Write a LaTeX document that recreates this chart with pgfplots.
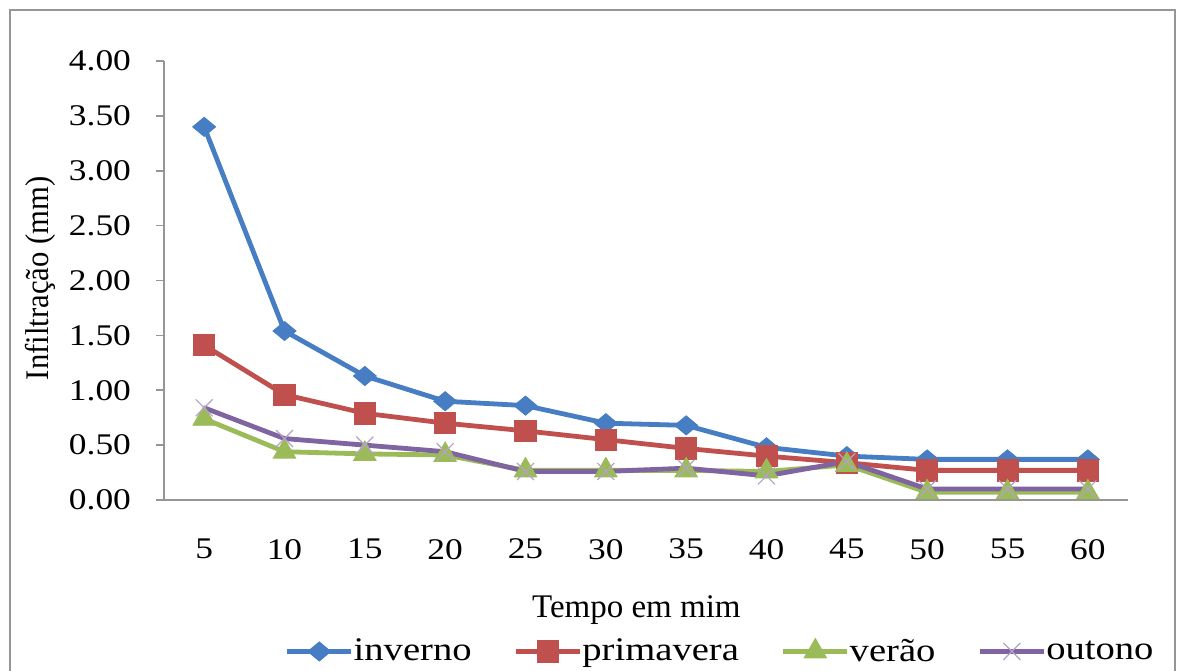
\documentclass[border=0pt]{standalone}
\usepackage{pgfplots}
\pgfplotsset{compat=1.18}
\usepackage{fontspec}
\setmainfont{Liberation Serif}
\newfontfamily\tickfont[FakeStretch=1.18]{Liberation Serif}
\newfontfamily\legfont[FakeStretch=1.17]{Liberation Serif}
\newfontfamily\ylabfont[FakeStretch=0.93]{Liberation Serif}
\definecolor{cblue}{RGB}{70,125,195}
\definecolor{cred}{RGB}{192,80,77}
\definecolor{cgreen}{RGB}{155,187,89}
\definecolor{cpurple}{RGB}{128,100,162}
\definecolor{axgray}{RGB}{150,150,150}
\begin{document}
\begin{tikzpicture}
\useasboundingbox (-82pt,-85pt) rectangle (510pt,250pt);
\draw[axgray, line width=1pt] (-77pt,-100pt) -- (-77pt,245pt) -- (505.5pt,245pt) -- (505.5pt,-100pt);
\begin{axis}[
  at={(0,0)}, anchor=south west,
  scale only axis,
  width=482pt, height=219.5pt,
  xmin=2.5, xmax=62.5, ymin=0, ymax=4,
  axis lines=left,
  axis line style={-, axgray, line width=1pt},
  xtick={5,10,...,60},
  xtick style={draw=none},
  minor xtick={2.5,7.5,...,62.5},
  minor x tick style={axgray, line width=0.8pt},
  minor tick length=4pt,
  ytick={0,0.5,...,4},
  ytick style={axgray, line width=0.8pt},
  major tick length=4pt,
  tick align=outside,
  tick pos=left,
  tick label style={font=\tickfont\fontsize{15pt}{18pt}\selectfont},
  /pgf/number format/assume math mode=true,
  yticklabel style={/pgf/number format/.cd, fixed, fixed zerofill, precision=2, /tikz/.cd, xshift=-9pt},
  xticklabel style={yshift=-12pt},
  ylabel={Infiltração (mm)},
  ylabel style={font=\ylabfont\fontsize{16.5pt}{19pt}\selectfont, at={(axis description cs:-0.1286,0.505)}, anchor=center},
  xlabel={Tempo em mim},
  xlabel style={font=\fontsize{16.5pt}{19pt}\selectfont, at={(axis description cs:0.49,-0.25)}, anchor=center},
  legend columns=4,
  legend style={draw=none, fill=none, at={(axis description cs:0.125,-0.345)}, anchor=west,
    font=\legfont\fontsize{16.5pt}{20pt}\selectfont, inner sep=0pt,
    /tikz/every even column/.append style={column sep=19pt},
    /tikz/every odd column/.append style={column sep=-2pt}},
  legend cell align=left,
  legend image code/.code={\draw[mark repeat=2,mark phase=2,#1] plot coordinates {(0pt,0pt) (16pt,0pt) (32pt,0pt)};},
  every axis plot/.append style={line width=2.4pt},
]
\addplot[cblue, mark=diamond*, mark size=4.8pt, mark options={line width=0.4pt, fill=cblue, xscale=1.6}] coordinates {
(5,3.40) (10,1.54) (15,1.13) (20,0.90) (25,0.86) (30,0.70) (35,0.68) (40,0.48) (45,0.40) (50,0.37) (55,0.37) (60,0.37)};
\addlegendentry{inverno}
\addplot[cred, mark=square*, mark size=5.3pt, mark options={line width=0.4pt, fill=cred}] coordinates {
(5,1.41) (10,0.96) (15,0.79) (20,0.70) (25,0.63) (30,0.55) (35,0.47) (40,0.40) (45,0.34) (50,0.27) (55,0.27) (60,0.27)};
\addlegendentry{primavera}
\addplot[cgreen, mark=triangle*, mark size=6.5pt, mark options={line width=0.4pt, fill=cgreen}] coordinates {
(5,0.74) (10,0.44) (15,0.42) (20,0.41) (25,0.27) (30,0.27) (35,0.27) (40,0.26) (45,0.32) (50,0.07) (55,0.07) (60,0.07)};
\addlegendentry{verão}
\addplot[cpurple, mark=x, mark size=6pt, mark options={line width=0.6pt, draw=cpurple!60}] coordinates {
(5,0.84) (10,0.56) (15,0.50) (20,0.44) (25,0.26) (30,0.26) (35,0.29) (40,0.22) (45,0.35) (50,0.10) (55,0.10) (60,0.10)};
\addlegendentry{outono}
\end{axis}
\end{tikzpicture}
\end{document}
